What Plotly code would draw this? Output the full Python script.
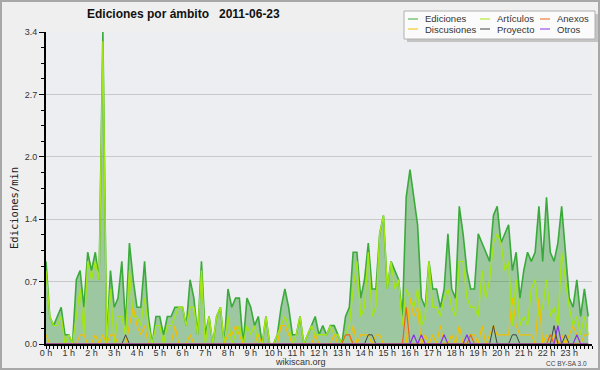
import plotly.graph_objects as go

# ---- data: edits per minute, one value per 10-minute slot (144 slots) ----
hours_labels = [f"{h} h" for h in range(24)]
hour_ticks = list(range(24))
slot_hours = [i / 6 for i in range(144)]

y_tickvals = [0, 0.68, 1.36, 2.04, 2.72, 3.4]
y_ticktext = ["0.0", "0.7", "1.4", "2.0", "2.7", "3.4"]

ediciones = [
    0.9, 0.3, 0.2, 0.3, 0.4, 0.1, 0.1, 0.0, 0.7, 0.8,
    0.4, 1.0, 0.8, 1.0, 0.7, 3.4, 0.0, 0.8, 0.4, 0.5,
    0.9, 0.2, 1.1, 0.7, 0.4, 0.4, 0.9, 0.3, 0.0, 0.3,
    0.3, 0.1, 0.3, 0.3, 0.4, 0.4, 0.4, 0.2, 0.7, 0.5,
    0.1, 0.9, 0.1, 0.3, 0.0, 0.3, 0.4, 0.0, 0.6, 0.4,
    0.5, 0.5, 0.0, 0.5, 0.4, 0.2, 0.3, 0.0, 0.3, 0.0,
    0.0, 0.1, 0.4, 0.6, 0.4, 0.1, 0.1, 0.3, 0.0, 0.1,
    0.2, 0.3, 0.1, 0.2, 0.1, 0.2, 0.2, 0.1, 0.0, 0.3,
    0.4, 1.0, 1.0, 0.5, 0.7, 1.1, 0.6, 0.6, 1.2, 1.4,
    0.6, 0.9, 0.8, 0.7, 0.3, 1.6, 1.9, 1.6, 1.3, 0.5,
    0.4, 0.9, 0.6, 0.6, 0.4, 0.6, 1.2, 0.6, 0.5, 1.5,
    1.2, 0.8, 0.6, 0.6, 1.2, 1.1, 1.0, 0.9, 1.4, 1.5,
    1.1, 1.2, 1.3, 0.8, 1.0, 0.5, 0.8, 1.0, 0.9, 1.0,
    1.5, 0.9, 1.6, 1.0, 0.9, 1.1, 1.5, 1.0, 0.5, 0.4,
    0.7, 0.3, 0.6, 0.3,
]
articulos = [
    0.8, 0.3, 0.2, 0.2, 0.3, 0.0, 0.1, 0.0, 0.3, 0.6,
    0.1, 0.9, 0.7, 0.9, 0.7, 3.3, 0.0, 0.6, 0.0, 0.3,
    0.3, 0.1, 0.8, 0.3, 0.3, 0.2, 0.5, 0.2, 0.0, 0.2,
    0.2, 0.0, 0.2, 0.2, 0.3, 0.4, 0.4, 0.2, 0.4, 0.4,
    0.1, 0.8, 0.0, 0.3, 0.0, 0.3, 0.4, 0.0, 0.3, 0.0,
    0.1, 0.2, 0.0, 0.2, 0.1, 0.2, 0.0, 0.0, 0.3, 0.0,
    0.0, 0.1, 0.2, 0.3, 0.2, 0.0, 0.1, 0.3, 0.0, 0.1,
    0.2, 0.1, 0.1, 0.1, 0.1, 0.2, 0.1, 0.1, 0.0, 0.1,
    0.2, 0.6, 0.9, 0.3, 0.4, 1.0, 0.3, 0.4, 1.2, 1.4,
    0.6, 0.9, 0.6, 0.7, 0.2, 0.6, 0.5, 0.4, 0.6, 0.2,
    0.3, 0.9, 0.4, 0.4, 0.3, 0.5, 0.6, 0.4, 0.3, 0.9,
    0.9, 0.5, 0.4, 0.4, 0.3, 0.8, 0.5, 0.7, 1.1, 1.2,
    1.1, 0.8, 0.9, 0.2, 0.7, 0.2, 0.3, 0.2, 0.6, 0.7,
    0.3, 0.4, 0.7, 0.3, 0.4, 0.2, 1.0, 0.7, 0.4, 0.2,
    0.3, 0.1, 0.3, 0.1,
]
discusiones = [
    0.1, 0, 0, 0, 0, 0, 0, 0, 0, 0.1,
    0.1, 0, 0, 0.1, 0, 0.1, 0, 0.1, 0.1, 0,
    0, 0, 0.2, 0.4, 0.2, 0.1, 0.2, 0, 0, 0,
    0, 0, 0, 0, 0.2, 0, 0, 0, 0.1, 0,
    0, 0, 0, 0, 0, 0, 0, 0, 0.1, 0.1,
    0.2, 0.1, 0, 0, 0, 0, 0.1, 0, 0, 0,
    0, 0, 0.2, 0.2, 0.1, 0, 0, 0, 0, 0,
    0, 0.1, 0, 0, 0, 0, 0.1, 0, 0, 0,
    0, 0.2, 0, 0.1, 0.1, 0.1, 0, 0.1, 0.1, 0,
    0, 0, 0, 0, 0, 0, 0.5, 0.3, 0.4, 0,
    0.1, 0, 0.1, 0, 0.2, 0, 0, 0.1, 0, 0.2,
    0, 0, 0.1, 0.1, 0, 0.2, 0, 0.1, 0.2, 0.1,
    0.1, 0.1, 0.1, 0.5, 0.2, 0.1, 0.1, 0.1, 0.1, 0,
    0.5, 0, 0.1, 0, 0.1, 0, 0.1, 0, 0.1, 0.2,
    0.1, 0, 0.1, 0.1,
]
proyecto = [
    0, 0, 0, 0, 0, 0, 0, 0, 0, 0,
    0, 0, 0, 0, 0, 0, 0, 0, 0, 0,
    0, 0.1, 0, 0, 0, 0, 0, 0, 0, 0,
    0, 0, 0, 0, 0, 0, 0, 0, 0, 0,
    0, 0, 0, 0, 0, 0, 0, 0, 0, 0,
    0, 0, 0, 0, 0, 0, 0, 0, 0, 0,
    0, 0, 0, 0, 0, 0, 0, 0, 0, 0,
    0, 0, 0, 0, 0, 0, 0, 0, 0, 0,
    0, 0, 0, 0, 0, 0.1, 0.1, 0, 0, 0,
    0, 0, 0, 0, 0, 0, 0, 0, 0, 0,
    0, 0, 0, 0, 0, 0, 0, 0, 0, 0,
    0, 0, 0, 0, 0, 0, 0, 0, 0.2, 0,
    0, 0, 0, 0.1, 0.1, 0, 0, 0, 0, 0,
    0, 0, 0, 0, 0.2, 0, 0, 0.1, 0, 0,
    0, 0, 0, 0,
]
anexos = [
    0, 0, 0, 0, 0, 0, 0, 0, 0, 0,
    0, 0, 0, 0, 0, 0, 0, 0, 0, 0,
    0, 0, 0, 0, 0, 0, 0, 0, 0, 0,
    0, 0, 0, 0, 0, 0, 0, 0, 0, 0,
    0, 0, 0, 0, 0, 0, 0, 0, 0, 0,
    0, 0, 0, 0, 0, 0, 0, 0, 0, 0,
    0, 0, 0, 0, 0, 0, 0, 0, 0, 0,
    0, 0, 0, 0, 0, 0, 0, 0, 0, 0.1,
    0.1, 0, 0, 0, 0, 0, 0, 0, 0, 0,
    0, 0, 0, 0, 0, 0.4, 0, 0, 0, 0,
    0, 0, 0, 0, 0, 0, 0, 0, 0, 0,
    0, 0, 0.1, 0, 0, 0, 0, 0, 0, 0,
    0, 0, 0, 0, 0, 0, 0, 0, 0, 0,
    0, 0, 0, 0.1, 0, 0, 0, 0, 0, 0,
    0, 0, 0, 0,
]
otros = [
    0, 0, 0, 0, 0, 0, 0, 0, 0, 0,
    0, 0, 0, 0, 0, 0, 0, 0, 0, 0,
    0, 0, 0, 0, 0, 0, 0, 0, 0, 0,
    0, 0, 0, 0, 0, 0, 0, 0, 0, 0,
    0, 0, 0, 0, 0, 0, 0, 0, 0, 0,
    0, 0, 0, 0, 0, 0, 0, 0, 0, 0,
    0, 0, 0, 0, 0, 0, 0, 0, 0, 0,
    0, 0, 0, 0, 0, 0, 0, 0, 0, 0,
    0, 0, 0, 0, 0, 0, 0, 0, 0, 0,
    0, 0, 0, 0, 0, 0, 0, 0.1, 0, 0.1,
    0, 0, 0, 0, 0, 0.1, 0, 0, 0, 0,
    0, 0.1, 0, 0, 0, 0, 0, 0, 0, 0,
    0, 0, 0, 0, 0, 0, 0, 0, 0, 0,
    0, 0, 0, 0, 0, 0.2, 0, 0, 0, 0,
    0.1, 0, 0, 0,
]

series_names = ["Ediciones", "Artículos", "Anexos", "Discusiones", "Proyecto", "Otros"]

# ---- styles ----
COL = {
    "Ediciones": "#3aaa3a",
    "Artículos": "#a2e614",
    "Anexos": "#f06418",
    "Discusiones": "#f2c000",
    "Proyecto": "#444444",
    "Otros": "#8a30ea",
}
W, H = 600, 370
L, R, T, B = 46, 8, 32, 26
PW, PH = W - L - R, H - T - B


def px(xp):
    return (xp - L) / PW


def py(yp):
    return (H - B - yp) / PH


fig = go.Figure()
fig.add_trace(go.Scatter(
    x=slot_hours, y=ediciones, mode="lines", name="Ediciones",
    line=dict(color=COL["Ediciones"], width=1.6),
    fill="tozeroy", fillcolor="rgba(40,140,40,0.40)", showlegend=False,
))
for name, vals, w in [("Artículos", articulos, 1.4), ("Discusiones", discusiones, 1.2),
                      ("Proyecto", proyecto, 1.0), ("Anexos", anexos, 1.2), ("Otros", otros, 1.2)]:
    fig.add_trace(go.Scatter(x=slot_hours, y=vals, mode="lines", name=name,
                             line=dict(color=COL[name], width=w), showlegend=False))

shapes = []
ann = []
# outer frame
shapes.append(dict(type="rect", xref="paper", yref="paper",
                   x0=px(1), x1=px(599), y0=py(369), y1=py(1),
                   line=dict(color="#a8a8a8", width=2), layer="below"))

# legend box with shadow
shapes.append(dict(type="rect", xref="paper", yref="paper",
                   x0=px(407), x1=px(598), y0=py(42), y1=py(14),
                   fillcolor="#c4c4c4", line=dict(width=0)))
shapes.append(dict(type="rect", xref="paper", yref="paper",
                   x0=px(404), x1=px(595), y0=py(39), y1=py(11),
                   fillcolor="#fbfbfb", line=dict(color="#b0b0b0", width=1)))
leg_pos = {
    "Ediciones": (408, 19), "Artículos": (480, 19), "Anexos": (540, 19),
    "Discusiones": (408, 29), "Proyecto": (480, 29), "Otros": (540, 29),
}
for name in series_names:
    lx, ly = leg_pos[name]
    shapes.append(dict(type="line", xref="paper", yref="paper",
                       x0=px(lx), x1=px(lx + 10), y0=py(ly), y1=py(ly),
                       line=dict(color=COL[name], width=1)))
    ann.append(dict(text=name, xref="paper", yref="paper", x=px(lx + 15), y=py(ly),
                    xanchor="left", yanchor="middle", showarrow=False,
                    font=dict(family="Liberation Sans, Arial", size=9.5, color="#333")))

# title
ann.append(dict(text="<b>Ediciones por ámbito</b>", xref="paper", yref="paper",
                x=px(85), y=py(14), xanchor="left", yanchor="middle", showarrow=False,
                font=dict(family="Liberation Sans, Arial", size=12, color="#111")))
ann.append(dict(text="<b>2011-06-23</b>", xref="paper", yref="paper",
                x=px(217), y=py(14), xanchor="left", yanchor="middle", showarrow=False,
                font=dict(family="Liberation Sans, Arial", size=12, color="#111")))
# y title
ann.append(dict(text="Ediciones/min", xref="paper", yref="paper",
                x=px(14), y=py(208), xanchor="center", yanchor="middle", textangle=-90,
                showarrow=False, font=dict(family="DejaVu Sans Mono", size=10.5, color="#222")))
# footer
ann.append(dict(text="wikiscan.org", xref="paper", yref="paper",
                x=px(300), y=py(362), xanchor="center", yanchor="middle", showarrow=False,
                font=dict(family="Liberation Sans, Arial", size=9, color="#333")))
ann.append(dict(text="CC BY-SA 3.0", xref="paper", yref="paper",
                x=px(589), y=py(363), xanchor="right", yanchor="middle", showarrow=False,
                font=dict(family="Liberation Sans, Arial", size=6.5, color="#444")))

fig.update_layout(
    width=W, height=H,
    margin=dict(l=L, r=R, t=T, b=B),
    paper_bgcolor="#efefef",
    plot_bgcolor="#eceef1",
    shapes=shapes, annotations=ann,
    showlegend=False,
    xaxis=dict(
        range=[0, 24], tickmode="array", tickvals=hour_ticks, ticktext=hours_labels,
        showgrid=False, zeroline=False, showline=True, linecolor="black", linewidth=2,
        ticks="outside", ticklen=3, tickcolor="black", tickwidth=1,
        ticklabelstandoff=-4,
        minor=dict(dtick=1 / 6, tick0=0, ticklen=3, tickcolor="black", tickwidth=1, showgrid=False),
        tickfont=dict(family="Liberation Sans, Arial", size=9, color="#333"),
        fixedrange=True,
    ),
    yaxis=dict(
        range=[0, 3.4], tickmode="array", tickvals=y_tickvals, ticktext=y_ticktext,
        showgrid=True, gridcolor="#c8c8c8", gridwidth=1, zeroline=False,
        showline=True, linecolor="black", linewidth=2,
        ticks="outside", ticklen=5, tickcolor="black", tickwidth=1,
        minor=dict(dtick=0.17, tick0=0, ticklen=3, tickcolor="black", tickwidth=1, showgrid=False),
        tickfont=dict(family="Liberation Sans, Arial", size=9, color="#333"),
        fixedrange=True,
    ),
)
fig.write_html("out.html", config={"displayModeBar": False},
               post_script="document.body.style.margin='0px';document.body.style.overflow='hidden';")
